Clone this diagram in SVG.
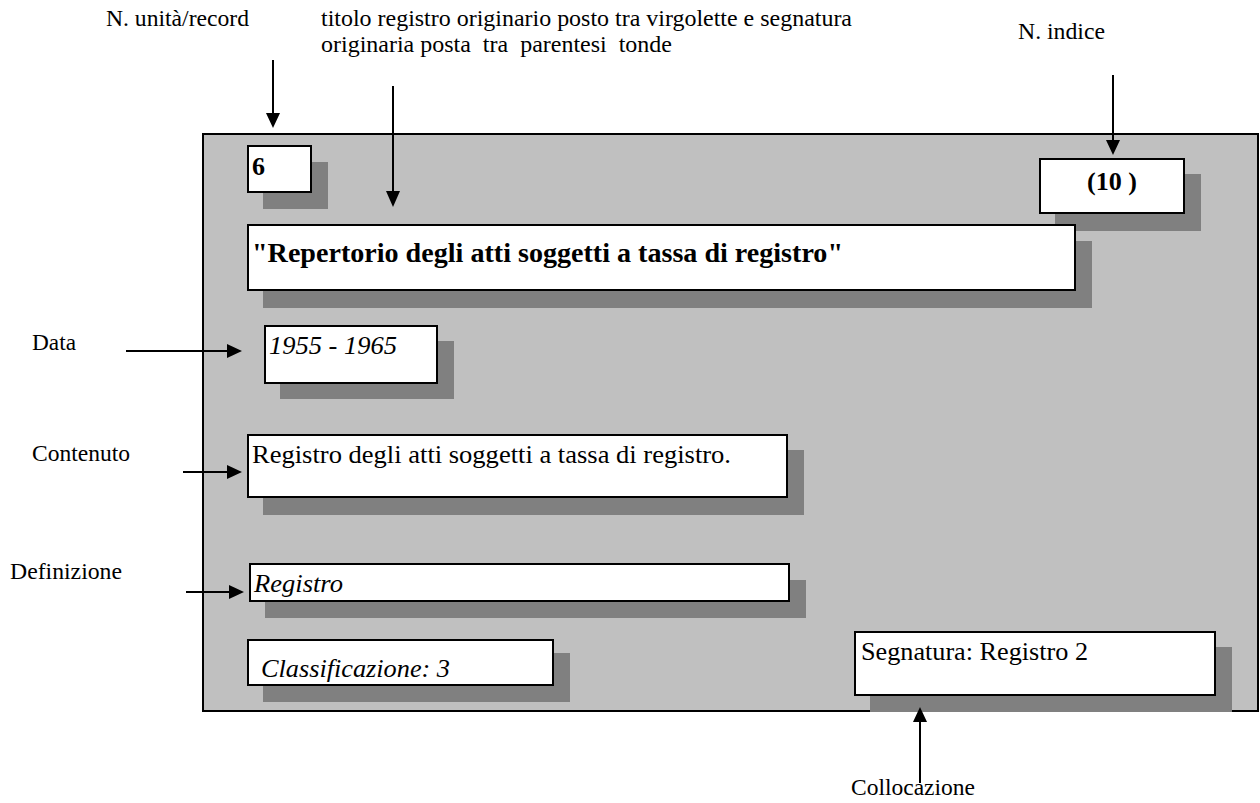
<svg xmlns="http://www.w3.org/2000/svg" width="1260" height="803" viewBox="0 0 1260 803" font-family="'Liberation Serif', 'Times New Roman', Tinos, 'DejaVu Serif', serif">
<defs>
<style>
text{font-family:'Liberation Serif','Times New Roman',Tinos,'DejaVu Serif',serif;fill:#000}
.lbl{font-size:24px}
.bx{fill:#fff;stroke:#000;stroke-width:2}
.sh{fill:#808080}
.t{font-size:26px}
.b{font-weight:bold}
.i{font-style:italic}
.ln{stroke:#000;stroke-width:2;fill:none}
.ah{fill:#000}
</style>
</defs>
<rect width="1260" height="803" fill="#fff"/>
<g id="panel">
<rect x="203" y="134" width="1055" height="577" fill="#c0c0c0" stroke="#000" stroke-width="2"/>
</g>
<g id="labels">
<text class="lbl" x="106" y="26" textLength="143" lengthAdjust="spacingAndGlyphs">N. unità/record</text>
<text class="lbl" x="321" y="26" textLength="531" lengthAdjust="spacingAndGlyphs">titolo registro originario posto tra virgolette e segnatura</text>
<text class="lbl" x="321" y="52" xml:space="preserve" style="white-space:pre" textLength="351" lengthAdjust="spacingAndGlyphs">originaria posta  tra  parentesi  tonde</text>
<text class="lbl" x="1018" y="39" textLength="87" lengthAdjust="spacingAndGlyphs">N. indice</text>
<text class="lbl" x="32" y="350" textLength="44" lengthAdjust="spacingAndGlyphs">Data</text>
<text class="lbl" x="32" y="461" textLength="98" lengthAdjust="spacingAndGlyphs">Contenuto</text>
<text class="lbl" x="10" y="579" textLength="112" lengthAdjust="spacingAndGlyphs">Definizione</text>
<text class="lbl" x="851" y="795" textLength="124" lengthAdjust="spacingAndGlyphs">Collocazione</text>
</g>
<g id="node-numero">
<rect class="sh" x="263" y="162" width="65" height="47"/>
<rect class="bx" x="248" y="146" width="63" height="46"/>
<text class="t b" x="252" y="175">6</text>
</g>
<g id="node-indice">
<rect class="sh" x="1055" y="174" width="146" height="57"/>
<rect class="bx" x="1040" y="159" width="144" height="54"/>
<text class="t b" x="1087" y="190" xml:space="preserve" style="white-space:pre" textLength="50" lengthAdjust="spacingAndGlyphs">(10 )</text>
</g>
<g id="node-titolo">
<rect class="sh" x="263" y="241" width="829" height="67"/>
<rect class="bx" x="248" y="225" width="827" height="65"/>
<text class="t b" x="252" y="262" style="font-size:28px" textLength="591" lengthAdjust="spacingAndGlyphs">"Repertorio degli atti soggetti a tassa di registro"</text>
</g>
<g id="node-data">
<rect class="sh" x="280" y="341" width="174" height="58"/>
<rect class="bx" x="265" y="326" width="172" height="57"/>
<text class="t i" x="269" y="354" textLength="128" lengthAdjust="spacingAndGlyphs">1955 - 1965</text>
</g>
<g id="node-contenuto">
<rect class="sh" x="263" y="450" width="541" height="65"/>
<rect class="bx" x="248" y="435" width="539" height="62"/>
<text class="t" x="252" y="463" textLength="479" lengthAdjust="spacingAndGlyphs">Registro degli atti soggetti a tassa di registro.</text>
</g>
<g id="node-definizione">
<rect class="sh" x="265" y="580" width="541" height="38"/>
<rect class="bx" x="250" y="564" width="539" height="37"/>
<text class="t i" x="254" y="592" textLength="89" lengthAdjust="spacingAndGlyphs">Registro</text>
</g>
<g id="node-classificazione">
<rect class="sh" x="263" y="653" width="307" height="49"/>
<rect class="bx" x="248" y="640" width="305" height="45"/>
<text class="t i" x="261" y="677" textLength="189" lengthAdjust="spacingAndGlyphs">Classificazione: 3</text>
</g>
<g id="node-segnatura">
<rect class="sh" x="870" y="647" width="362" height="65"/>
<rect class="bx" x="855" y="632" width="360" height="63"/>
<text class="t" x="861" y="660" textLength="227" lengthAdjust="spacingAndGlyphs">Segnatura: Registro 2</text>
</g>
<g id="connectors">
<line class="ln" x1="273" y1="60" x2="273" y2="114"/>
<polygon class="ah" points="266,113 280,113 273,128"/>
<line class="ln" x1="393" y1="86" x2="393" y2="192"/>
<polygon class="ah" points="386,191 400,191 393,207"/>
<line class="ln" x1="1113" y1="75" x2="1113" y2="141"/>
<polygon class="ah" points="1106,140 1120,140 1113,155"/>
<line class="ln" x1="126" y1="351" x2="228" y2="351"/>
<polygon class="ah" points="227,344 227,358 242,351"/>
<line class="ln" x1="183" y1="472" x2="228" y2="472"/>
<polygon class="ah" points="227,465 227,479 242,472"/>
<line class="ln" x1="186" y1="592" x2="230" y2="592"/>
<polygon class="ah" points="229,585 229,599 244,592"/>
<line class="ln" x1="920" y1="783" x2="920" y2="721"/>
<polygon class="ah" points="913,722 927,722 920,707"/>
</g>
</svg>
